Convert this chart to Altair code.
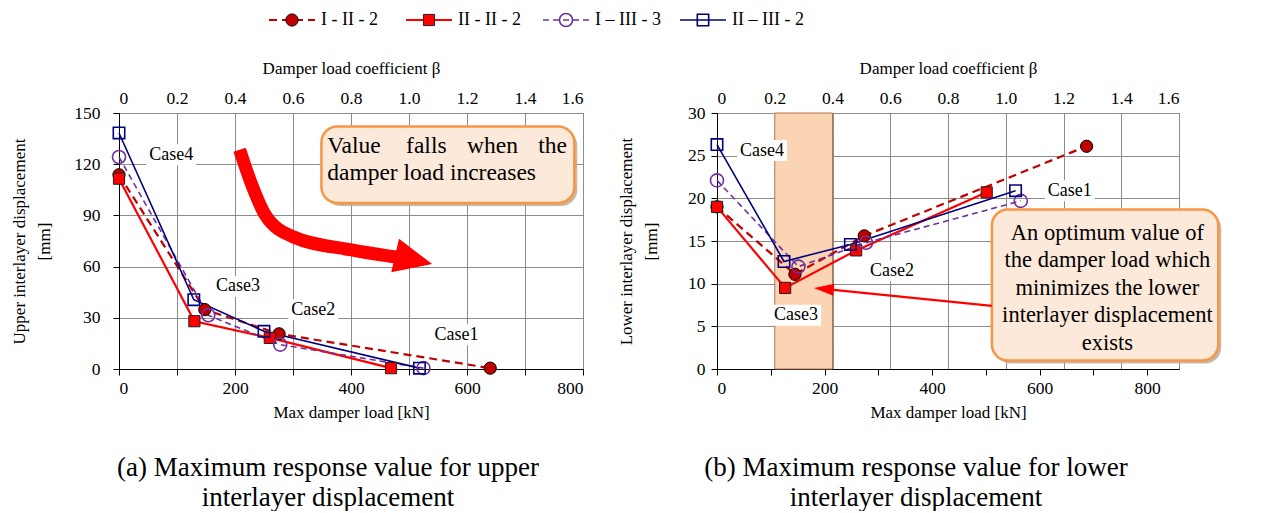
import altair as alt
import pandas as pd

FONT = "Liberation Serif"

series_names = ["I - II - 2", "II - II - 2", "I – III - 3", "II – III - 2"]
case_names = ["Case4", "Case3", "Case2", "Case1"]

# (a) upper interlayer displacement  [kN], [mm]
load_a_I_II_2 = [0, 148, 276, 640]
load_a_II_II_2 = [0, 130, 260, 469]
load_a_I_III_3 = [0, 154, 278, 525]
load_a_II_III_2 = [0, 129, 250, 518]
disp_a_I_II_2 = [113.8, 34.8, 20.6, 0.5]
disp_a_II_II_2 = [111.5, 28.0, 18.2, 0.5]
disp_a_I_III_3 = [124.2, 31.5, 14.3, 0.5]
disp_a_II_III_2 = [138.3, 40.6, 22.1, 0.5]

# (b) lower interlayer displacement  [kN], [mm]
load_b_I_II_2 = [0, 135, 255, 640]
load_b_II_II_2 = [0, 118, 241, 467]
load_b_I_III_3 = [0, 141, 258, 526]
load_b_II_III_2 = [0, 116, 231, 517]
disp_b_I_II_2 = [19.0, 11.1, 15.6, 26.1]
disp_b_II_II_2 = [19.0, 9.5, 13.9, 20.7]
disp_b_I_III_3 = [22.1, 12.0, 14.8, 19.7]
disp_b_II_III_2 = [26.3, 12.6, 14.6, 20.9]

# axis ticks
tick_kn = [0, 100, 200, 300, 400, 500, 600, 700, 800]
ticks_a = [0, 30, 60, 90, 120, 150]
ticks_b = [0, 5, 10, 15, 20, 25, 30]

# case label anchors
case_a_x = [90, 205, 335, 582]
case_a_y = [125.6, 48.4, 34.7, 20.1]
case_b_x = [78, 137, 303, 611]
case_b_y = [25.6, 6.3, 11.5, 20.9]

# optimum band (b)
band_b = [100, 200]

# callout (a)
note_a_words = ["Value", "falls", "when", "the"]
note_a_word_x = [359, 495, 600, 723]
note_a_line2 = "damper load increases"
note_a_box_x = [349, 785]
note_a_box_y = [97.3, 142.1]
note_a_line_y = [130.4, 114.8]
arrow_a_x = [208, 230, 252, 300, 398, 485]
arrow_a_y = [128.5, 107.0, 90.4, 77.5, 69.9, 65.2]
arrow_a_head = [508, 64.0]

# callout (b)
note_b_lines = ["An optimum value of", "the damper load which", "minimizes the lower",
                "interlayer displacement", "exists"]
note_b_line_y = [15.9, 12.75, 9.45, 6.3, 3.0]
note_b_x = 676
note_b_box_x = [476, 868]
note_b_box_y = [1.0, 18.7]
arrow_b_x = [476, 185]
arrow_b_y = [7.4, 9.4]

styles = {
    "I - II - 2": dict(color="#C00000", dash=[8, 5], shape="circle", filled=True,
                       stroke="#000000", lw=2.2, size=150, sw=1),
    "II - II - 2": dict(color="#FF0000", dash=None, shape="square", filled=True,
                        stroke="#222222", lw=2.2, size=125, sw=1),
    "I – III - 3": dict(color="#7030A0", dash=[6, 4], shape="circle", filled=False,
                        stroke="#7030A0", lw=1.6, size=170, sw=1.6),
    "II – III - 2": dict(color="#000080", dash=None, shape="square", filled=False,
                         stroke="#000080", lw=1.6, size=130, sw=1.6),
}

GRID = "#8c8c8c"


def x_main():
    return alt.X("x:Q", scale=alt.Scale(domain=[0, 800], nice=False, zero=False),
                 axis=alt.Axis(orient="top", values=tick_kn,
                               labelExpr="datum.value == 0 ? '0' : format(datum.value/500, '.1f')",
                               title="Damper load coefficient β", grid=True, gridColor=GRID,
                               ticks=False, domain=False, labelPadding=6, titlePadding=12,
                               labelFontSize=17.5, titleFontSize=17))


def y_main(ymax, vals, title, lpad, tpad):
    return alt.Y("y:Q", scale=alt.Scale(domain=[0, ymax], nice=False, zero=True),
                 axis=alt.Axis(values=vals, grid=True, gridColor=GRID, tickSize=6,
                               tickColor="black", domainColor="black", labelPadding=lpad,
                               title=title, titlePadding=tpad, titleLineHeight=25,
                               labelFontSize=17.5, titleFontSize=17))


def bottom_axis(dmax):
    return alt.Chart(pd.DataFrame({"b": [0, 800]})).mark_rule(opacity=0).encode(
        x=alt.X("b:Q", scale=alt.Scale(domain=[0, dmax], nice=False, zero=False),
                axis=alt.Axis(orient="bottom", values=tick_kn,
                              labelExpr="datum.value % 200 == 0 ? datum.label : ''",
                              grid=False, tickSize=6, tickColor="black", domainColor="black",
                              title="Max damper load [kN]", labelPadding=4, titlePadding=8,
                              labelFontSize=17.5, titleFontSize=17)))


def series_layers(loads, disps, X, Y):
    layers = []
    for name in series_names:
        st = styles[name]
        df = pd.DataFrame({"x": loads[name], "y": disps[name], "o": range(len(case_names))})
        kw = dict(color=st["color"], strokeWidth=st["lw"])
        if st["dash"]:
            kw["strokeDash"] = st["dash"]
        layers.append(alt.Chart(df).mark_line(**kw).encode(x=X, y=Y, order="o:Q"))
    for name in series_names:
        st = styles[name]
        df = pd.DataFrame({"x": loads[name], "y": disps[name]})
        if st["filled"]:
            m = alt.Chart(df).mark_point(shape=st["shape"], filled=True, fill=st["color"],
                                         stroke=st["stroke"], strokeWidth=st["sw"],
                                         size=st["size"], opacity=1)
        else:
            m = alt.Chart(df).mark_point(shape=st["shape"], filled=False, color=st["color"],
                                         strokeWidth=st["sw"], size=st["size"], opacity=1)
        layers.append(m.encode(x=X, y=Y))
    return layers


def case_layers(cx, cy, X, Y):
    df = pd.DataFrame({"x": cx, "y": cy, "t": case_names})
    bg = alt.Chart(df).mark_point(shape="M-1,-0.42L1,-0.42L1,0.42L-1,0.42Z", filled=True,
                                  fill="white", size=2500, opacity=1, strokeWidth=0).encode(x=X, y=Y)
    tx = alt.Chart(df).mark_text(font=FONT, fontSize=18, color="black").encode(x=X, y=Y, text="t:N")
    return [bg, tx]


def callout_box(bx, by, X, Y):
    df = pd.DataFrame({"x": [bx[0]], "x2": [bx[1]], "y": [by[0]], "y2": [by[1]]})
    shadow = alt.Chart(df).mark_rect(cornerRadius=16, fill="#b9a594", opacity=0.8,
                                     xOffset=3, x2Offset=3, yOffset=3, y2Offset=3).encode(
        x=X, x2="x2:Q", y=Y, y2="y2:Q")
    box = alt.Chart(df).mark_rect(cornerRadius=16, fill="#FDE9D9", stroke="#F79646",
                                  strokeWidth=2.5).encode(x=X, x2="x2:Q", y=Y, y2="y2:Q")
    return [shadow, box]


SUB_STYLE = dict(orient="bottom", anchor="middle", frame="group", offset=34,
                 font=FONT, fontSize=27, fontWeight="normal", lineHeight=30, color="black")

# ---------- panel (a)
Xa = x_main()
Ya = y_main(150, ticks_a, ["Upper interlayer displacement", "[mm]"], 13, 20)
loads_a = {"I - II - 2": load_a_I_II_2, "II - II - 2": load_a_II_II_2,
           "I – III - 3": load_a_I_III_3, "II – III - 2": load_a_II_III_2}
disps_a = {"I - II - 2": disp_a_I_II_2, "II - II - 2": disp_a_II_II_2,
           "I – III - 3": disp_a_I_III_3, "II – III - 2": disp_a_II_III_2}

layers_a = series_layers(loads_a, disps_a, Xa, Ya)
layers_a += case_layers(case_a_x, case_a_y, Xa, Ya)
layers_a += callout_box(note_a_box_x, note_a_box_y, Xa, Ya)
words_df = pd.DataFrame({"x": note_a_word_x, "y": [note_a_line_y[0]] * 4, "t": note_a_words})
layers_a.append(alt.Chart(words_df).mark_text(font=FONT, fontSize=23.5, align="left",
                                              color="black").encode(x=Xa, y=Ya, text="t:N"))
l2_df = pd.DataFrame({"x": [note_a_word_x[0]], "y": [note_a_line_y[1]], "t": [note_a_line2]})
layers_a.append(alt.Chart(l2_df).mark_text(font=FONT, fontSize=23.5, align="left",
                                           color="black").encode(x=Xa, y=Ya, text="t:N"))
arr_df = pd.DataFrame({"x": arrow_a_x, "y": arrow_a_y, "o": range(len(arrow_a_x))})
layers_a.append(alt.Chart(arr_df).mark_line(color="#FF0000", strokeWidth=13, interpolate="monotone",
                                            strokeCap="butt").encode(x=Xa, y=Ya, order="o:Q"))
head_df = pd.DataFrame({"x": [arrow_a_head[0]], "y": [arrow_a_head[1]]})
layers_a.append(alt.Chart(head_df).mark_point(shape="M-1,-0.9L1,0L-1,0.9Z", filled=True, fill="#FF0000",
                                              size=1444, angle=13, opacity=1, strokeWidth=0).encode(x=Xa, y=Ya))

panel_a = alt.layer(alt.layer(*layers_a), bottom_axis(800)).resolve_scale(x="independent").properties(
    width=464, height=256,
    title=alt.TitleParams(["(a) Maximum response value for upper", "interlayer displacement"],
                          dx=-23, **SUB_STYLE))

# ---------- panel (b)
Xb = x_main()
Yb = y_main(30, ticks_b, ["Lower interlayer displacement", "[mm]"], 6, 27)
loads_b = {"I - II - 2": load_b_I_II_2, "II - II - 2": load_b_II_II_2,
           "I – III - 3": load_b_I_III_3, "II – III - 2": load_b_II_III_2}
disps_b = {"I - II - 2": disp_b_I_II_2, "II - II - 2": disp_b_II_II_2,
           "I – III - 3": disp_b_I_III_3, "II – III - 2": disp_b_II_III_2}

band_df = pd.DataFrame({"x": [band_b[0]], "x2": [band_b[1]], "y": [0], "y2": [30]})
layers_b = [alt.Chart(band_df).mark_rect(fill="#FBD4B4", stroke="#B07850", strokeWidth=1).encode(
    x=Xb, x2="x2:Q", y=Yb, y2="y2:Q")]
layers_b += series_layers(loads_b, disps_b, Xb, Yb)
layers_b += case_layers(case_b_x, case_b_y, Xb, Yb)
layers_b += callout_box(note_b_box_x, note_b_box_y, Xb, Yb)
nb_df = pd.DataFrame({"x": [note_b_x] * len(note_b_lines), "y": note_b_line_y, "t": note_b_lines})
layers_b.append(alt.Chart(nb_df).mark_text(font=FONT, fontSize=22.5, align="center",
                                           color="black").encode(x=Xb, y=Yb, text="t:N"))
arrb_df = pd.DataFrame({"x": arrow_b_x, "y": arrow_b_y})
layers_b.append(alt.Chart(arrb_df).mark_line(color="#FF0000", strokeWidth=2.2).encode(x=Xb, y=Yb))
headb_df = pd.DataFrame({"x": [arrow_b_x[1]], "y": [arrow_b_y[1]]})
layers_b.append(alt.Chart(headb_df).mark_point(shape="M1,-0.6L-1,0L1,0.6Z", filled=True, fill="#FF0000",
                                               size=400, angle=5, opacity=1, strokeWidth=0).encode(x=Xb, y=Yb))

panel_b = alt.layer(alt.layer(*layers_b), bottom_axis(800 * 462 / 430)).resolve_scale(
    x="independent").properties(
    width=462, height=256,
    title=alt.TitleParams(["(b) Maximum response value for lower", "interlayer displacement"],
                          dx=-32, **SUB_STYLE))

# ---------- legend row (its origin lines up with panel (a)'s plot origin)
PAD_L = 10
ORIGIN = 119
LW = 1000
leg_center = [292, 429, 566, 703]
leg_rows = []
for i, name in enumerate(series_names):
    c = leg_center[i] - ORIGIN
    leg_rows.append({"name": name, "x1": c - 23, "x2": c + 23, "xm": c, "xt": c + 29, "y": 20})
leg_df = pd.DataFrame(leg_rows)
LX = alt.Scale(domain=[0, LW], nice=False, zero=False)
LY = alt.Scale(domain=[40, 0], nice=False, zero=False)
leg_layers = []
for name in series_names:
    st = styles[name]
    d = leg_df[leg_df["name"] == name]
    kw = dict(color=st["color"], strokeWidth=st["lw"])
    if st["dash"]:
        kw["strokeDash"] = st["dash"]
    leg_layers.append(alt.Chart(d).mark_rule(**kw).encode(
        x=alt.X("x1:Q", scale=LX, axis=None), x2="x2:Q", y=alt.Y("y:Q", scale=LY, axis=None)))
    if st["filled"]:
        m = alt.Chart(d).mark_point(shape=st["shape"], filled=True, fill=st["color"], stroke=st["stroke"],
                                    strokeWidth=st["sw"], size=st["size"], opacity=1)
    else:
        m = alt.Chart(d).mark_point(shape=st["shape"], filled=False, color=st["color"],
                                    strokeWidth=st["sw"], size=st["size"], opacity=1)
    leg_layers.append(m.encode(x=alt.X("xm:Q", scale=LX, axis=None), y=alt.Y("y:Q", scale=LY, axis=None)))
leg_layers.append(alt.Chart(leg_df).mark_text(font=FONT, fontSize=18, align="left", color="black").encode(
    x=alt.X("xt:Q", scale=LX, axis=None), y=alt.Y("y:Q", scale=LY, axis=None), text="name:N"))
legend_chart = alt.layer(*leg_layers).properties(width=LW, height=40,
                                                 view=alt.ViewBackground(stroke=None, fill="white"))

chart = alt.vconcat(legend_chart, alt.hconcat(panel_a, panel_b, spacing=33), spacing=18).properties(
    padding={"left": PAD_L, "top": 0, "right": 0, "bottom": 0}
).configure(font=FONT).configure_view(stroke="#333333").configure_axis(
    labelFont=FONT, titleFont=FONT, labelColor="black", titleColor="black", titleFontWeight="normal"
)

chart.save("out.html", embed_options={"renderer": "svg", "actions": False})
